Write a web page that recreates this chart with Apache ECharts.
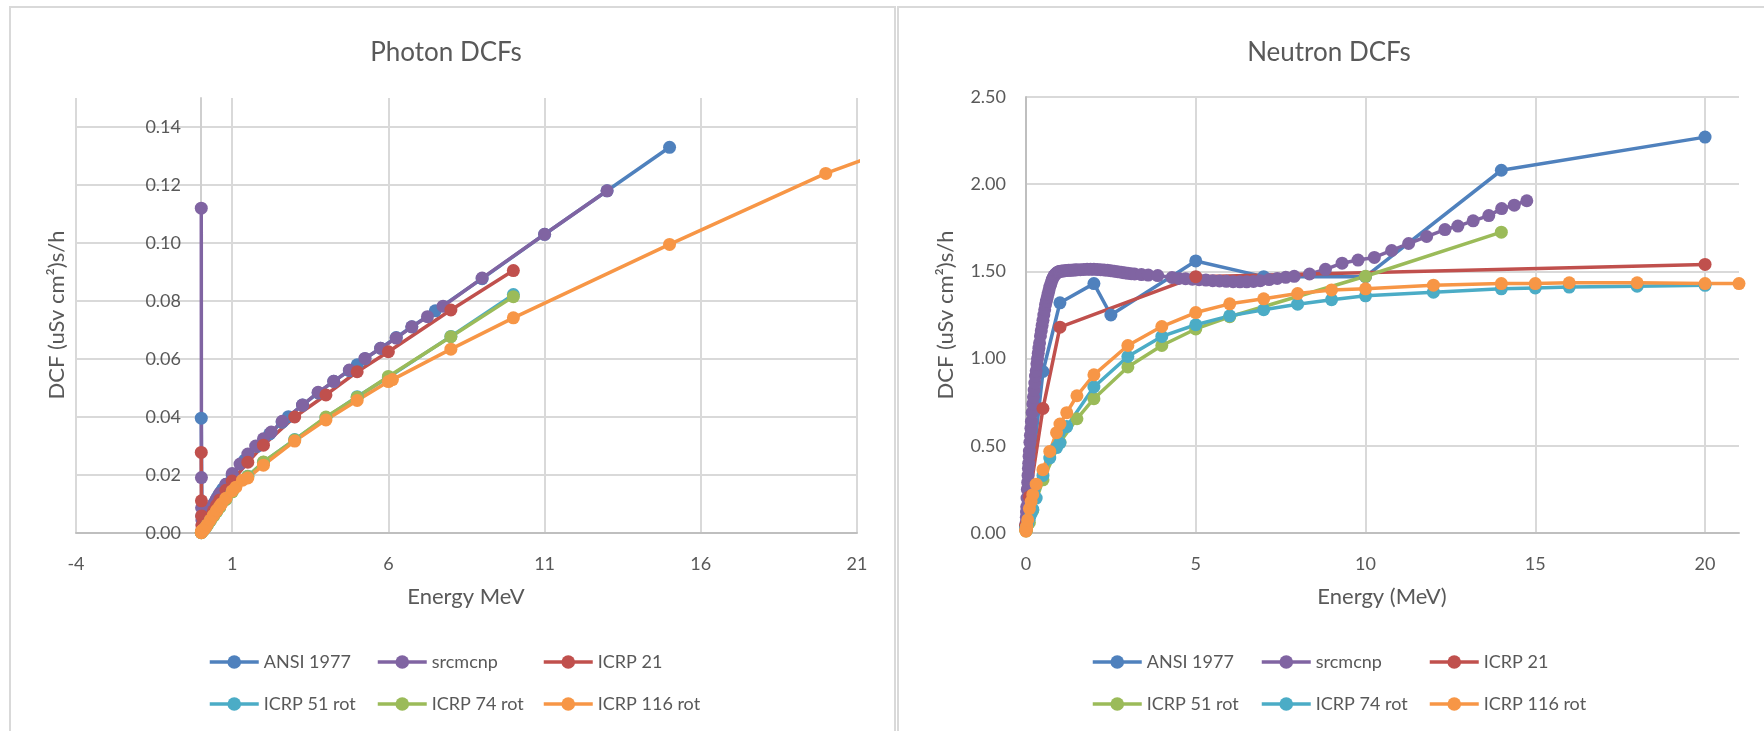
<!DOCTYPE html>
<html><head><meta charset="utf-8">
<script src="https://cdn.jsdelivr.net/npm/echarts@6/dist/echarts.min.js"></script>
<style>
html,body{margin:0;padding:0;background:#fff;width:1764px;height:731px;overflow:hidden;}
#p{position:absolute;left:0;top:0;width:896px;height:731px;}
#n{position:absolute;left:896px;top:0;width:868px;height:731px;}
.frame{position:absolute;border:2px solid #d9d9d9;box-sizing:border-box;}
</style></head><body>
<div class="frame" style="left:9px;top:6px;width:887px;height:760px"></div>
<div class="frame" style="left:897px;top:6px;width:900px;height:760px"></div>
<div id="p"></div>
<div id="n"></div>
<script>
// ---------------- data ----------------
const seriesNames = ['ANSI 1977','srcmcnp','ICRP 21','ICRP 51 rot','ICRP 74 rot','ICRP 116 rot'];
const photonTitle = 'Photon DCFs';
const neutronTitle = 'Neutron DCFs';
const photonXTitle = 'Energy MeV';
const neutronXTitle = 'Energy (MeV)';
const yTitle = 'DCF (uSv cm\u00B2)s/h';

// Photon (MeV, uSv/h per photon/cm2-s)
const phAnsiE = [0.01,0.03,0.05,0.07,0.1,0.15,0.2,0.25,0.3,0.35,0.4,0.45,0.5,0.55,0.6,0.65,0.7,0.8,1.0,1.4,1.8,2.2,2.6,2.8,3.25,3.75,4.25,4.75,5.0,5.25,5.75,6.25,6.75,7.5,9,11,13,15];
const phAnsiV = [0.0396,0.00582,0.0029,0.00258,0.00283,0.00379,0.00501,0.00631,0.00759,0.00878,0.00985,0.0108,0.0117,0.0127,0.0136,0.0144,0.0152,0.0168,0.0198,0.0251,0.0299,0.0342,0.0382,0.0401,0.0441,0.0483,0.0523,0.056,0.058,0.0601,0.0637,0.0674,0.0711,0.0766,0.0877,0.103,0.118,0.133];
const phSrcE = [0.01,0.015,0.02,0.03,0.04,0.05,0.06,0.08,0.1,0.15,0.2,0.3,0.4,0.5,0.6,0.8,1.0,1.25,1.5,1.75,2.0,2.25,2.6,3.25,3.75,4.25,4.75,5.25,5.75,6.25,6.75,7.25,7.75,9,11,13];
const phSrcV = [0.112,0.0191,0.0087,0.0045,0.003,0.0024,0.0023,0.0024,0.0028,0.0038,0.005,0.0076,0.0099,0.0117,0.0136,0.0168,0.0205,0.0238,0.0272,0.03,0.0325,0.0348,0.0385,0.0441,0.0485,0.0523,0.0562,0.0602,0.0637,0.0672,0.0711,0.0746,0.0782,0.0879,0.103,0.118];
const phI21E = [0.01,0.015,0.02,0.03,0.04,0.05,0.06,0.08,0.1,0.15,0.2,0.3,0.4,0.5,0.6,0.8,1,1.5,2,3,4,5,6,8,10];
const phI21V = [0.0278,0.0111,0.00588,0.00256,0.00156,0.0012,0.00111,0.0012,0.00147,0.00238,0.00345,0.00556,0.00763,0.00956,0.0114,0.0147,0.0179,0.0244,0.0303,0.04,0.0476,0.0556,0.0625,0.0769,0.0905];
const phI51E = [0.01,0.015,0.02,0.03,0.04,0.05,0.06,0.08,0.1,0.15,0.2,0.3,0.4,0.5,0.6,0.8,1,1.5,2,3,4,5,6,8,10];
const phI51V = [0.0001,0.0002,0.0004,0.0006,0.0007,0.0008,0.0009,0.001,0.0012,0.0019,0.0027,0.0043,0.0059,0.0074,0.0089,0.0117,0.0143,0.0196,0.0244,0.0322,0.0398,0.047,0.0537,0.0678,0.0822];
const phI74E = [0.01,0.015,0.02,0.03,0.04,0.05,0.06,0.08,0.1,0.15,0.2,0.3,0.4,0.5,0.6,0.8,1,1.5,2,3,4,5,6,8,10];
const phI74V = [0.0001,0.0002,0.0004,0.0006,0.0007,0.0008,0.0009,0.001,0.0012,0.0019,0.0027,0.0043,0.0058,0.0073,0.0088,0.0116,0.0142,0.0195,0.0245,0.0321,0.04,0.0468,0.054,0.0677,0.0815];
const phI116E = [0.01,0.015,0.02,0.03,0.04,0.05,0.06,0.07,0.08,0.1,0.15,0.2,0.3,0.4,0.5,0.511,0.6,0.662,0.8,1,1.117,1.33,1.5,2,3,4,5,6,6.129,8,10,15,20,30];
const phI116V = [0.0001,0.00025,0.00043,0.00068,0.00079,0.00086,0.0009,0.00097,0.00104,0.0013,0.002,0.00284,0.0045,0.00616,0.0077,0.00788,0.00922,0.0101,0.012,0.0145,0.0158,0.0182,0.019,0.0234,0.0317,0.039,0.0457,0.0522,0.0529,0.0634,0.0742,0.0995,0.124,0.1632];

// Neutron
const nAnsiE = [2.5e-8,1e-7,1e-6,1e-5,1e-4,1e-3,0.01,0.1,0.5,1,2,2.5,5,7,10,14,20];
const nAnsiV = [0.0367,0.0367,0.0446,0.0454,0.0418,0.0376,0.0356,0.217,0.926,1.32,1.43,1.25,1.56,1.47,1.47,2.08,2.27];
const nSrcE = [0,0.005,0.01,0.015,0.02,0.03,0.04,0.05,0.06,0.07,0.08,0.09,0.1,0.115,0.13,0.145,0.16,0.18,0.2,0.22,0.24,0.26,0.28,0.3,0.32,0.34,0.36,0.38,0.4,0.425,0.45,0.475,0.5,0.525,0.55,0.575,0.6,0.625,0.65,0.675,0.7,0.725,0.75,0.775,0.8,0.825,0.85,0.875,0.9,0.925,0.95,0.975,1.0,1.05,1.1,1.15,1.2,1.25,1.3,1.35,1.4,1.45,1.5,1.6,1.7,1.8,1.9,2.0,2.1,2.2,2.3,2.4,2.5,2.6,2.7,2.8,2.9,3.0,3.1,3.2,3.4,3.6,3.88,4.3,4.5,4.7,4.9,5.1,5.3,5.5,5.7,5.9,6.1,6.3,6.5,6.7,6.9,7.16,7.4,7.65,7.9,8.35,8.82,9.31,9.78,10.26,10.77,11.27,11.8,12.34,12.72,13.17,13.63,14.01,14.38,14.75];
const nSrcV = [0.02,0.06,0.09,0.12,0.15,0.2,0.25,0.29,0.33,0.37,0.4,0.44,0.47,0.52,0.56,0.6,0.64,0.69,0.74,0.78,0.82,0.86,0.9,0.93,0.97,1.0,1.03,1.06,1.09,1.13,1.16,1.19,1.22,1.25,1.28,1.31,1.33,1.35,1.37,1.39,1.41,1.425,1.44,1.455,1.465,1.475,1.48,1.485,1.49,1.494,1.497,1.499,1.5,1.502,1.503,1.504,1.505,1.506,1.507,1.507,1.508,1.508,1.509,1.51,1.511,1.512,1.512,1.512,1.511,1.51,1.508,1.506,1.504,1.501,1.498,1.495,1.492,1.489,1.487,1.485,1.482,1.479,1.476,1.465,1.46,1.458,1.455,1.452,1.45,1.447,1.445,1.443,1.441,1.44,1.44,1.442,1.447,1.453,1.46,1.466,1.472,1.485,1.512,1.547,1.565,1.58,1.62,1.66,1.7,1.74,1.76,1.79,1.82,1.86,1.88,1.905];
const nI21E = [2.5e-8,1e-7,1e-6,1e-5,1e-4,1e-3,0.01,0.1,0.5,1,5,20];
const nI21V = [0.0385,0.0417,0.0455,0.0435,0.0417,0.037,0.0357,0.208,0.714,1.18,1.47,1.54];
const nI51E = [2.5e-8,1e-6,1e-4,0.01,0.1,0.2,0.5,1,1.5,2,3,4,5,6,10,14];
const nI51V = [0.012,0.014,0.013,0.013,0.06,0.13,0.305,0.52,0.655,0.77,0.952,1.075,1.17,1.24,1.472,1.725];
const nI74E = [1e-9,2.5e-8,1e-6,1e-4,1e-3,0.01,0.02,0.05,0.1,0.15,0.2,0.3,0.5,0.7,0.9,1,1.2,2,3,4,5,6,7,8,9,10,12,14,15,16,18,20];
const nI74V = [0.018,0.027,0.028,0.026,0.024,0.028,0.035,0.055,0.085,0.11,0.135,0.2,0.33,0.43,0.49,0.516,0.61,0.837,1.012,1.127,1.194,1.245,1.28,1.312,1.338,1.36,1.381,1.4,1.405,1.41,1.415,1.42];
const nI116E = [1e-9,2.5e-8,1e-6,1e-4,1e-3,0.01,0.02,0.05,0.1,0.15,0.2,0.3,0.5,0.7,0.9,1,1.2,1.5,2,3,4,5,6,7,8,9,10,12,14,15,16,18,20,21,30];
const nI116V = [0.011,0.014,0.02,0.018,0.019,0.028,0.04,0.075,0.14,0.18,0.22,0.28,0.363,0.468,0.575,0.625,0.69,0.787,0.907,1.075,1.184,1.264,1.314,1.343,1.373,1.394,1.4,1.421,1.43,1.43,1.435,1.435,1.43,1.43,1.42];

const photonColors = ['#4F81BD','#8064A2','#C0504D','#4BACC6','#9BBB59','#F79646'];
const neutronColors = ['#4F81BD','#8064A2','#C0504D','#9BBB59','#4BACC6','#F79646'];

// ---------------- helpers ----------------
const FONT = 'Lato, "Open Sans", sans-serif';
const TXT = '#595959';
const LW = 3.5, MS = 13;
function pairs(e, v){ return e.map((x,i)=>[x, v[i]]); }
function mkSeries(name, color, e, v){
  return { name, type:'line', data:pairs(e,v), symbol:'circle', symbolSize:MS,
    showSymbol:true, clip:true, animation:false,
    lineStyle:{color, width:LW}, itemStyle:{color}, emphasis:{disabled:true} };
}
function mkLegends(cols, rows){
  const out = [];
  seriesNames.forEach((n,i)=>{
    out.push({ data:[n], left: cols[i%3], top: rows[Math.floor(i/3)], orient:'horizontal',
      itemWidth:49, itemHeight:17, padding:0, selectedMode:false,
      lineStyle:{width:LW},
      textStyle:{fontSize:18, color:TXT, fontFamily:FONT} });
  });
  return out;
}
function axisText(x, y, text, rot){
  return { type:'text', x, y, rotation: rot || 0, silent:true,
    style:{ text, fontSize:22, fontFamily:FONT, fill:TXT, align:'center', verticalAlign:'middle' } };
}

// ---------------- photon chart ----------------
const pXMin = -4, pXMax = 21;
const pGrid = { left:76, right:39, top:98, bottom:198 };
const pPlotW = 896 - pGrid.left - pGrid.right;
const pYAxisOffset = -(0 - pXMin) / (pXMax - pXMin) * pPlotW; // y axis crosses at x = 0
const pChart = echarts.init(document.getElementById('p'), null, {renderer:'canvas'});
const pSeries = [
  mkSeries(seriesNames[0], photonColors[0], phAnsiE, phAnsiV),
  mkSeries(seriesNames[1], photonColors[1], phSrcE, phSrcV),
  mkSeries(seriesNames[2], photonColors[2], phI21E, phI21V),
  mkSeries(seriesNames[3], photonColors[3], phI51E, phI51V),
  mkSeries(seriesNames[4], photonColors[4], phI74E, phI74V),
  mkSeries(seriesNames[5], photonColors[5], phI116E, phI116V)
];
pChart.setOption({
  animation:false,
  title:{ text:photonTitle, left:441, top:35, textAlign:'center',
    textStyle:{fontSize:26, fontWeight:'normal', color:TXT, fontFamily:FONT} },
  grid:Object.assign({ containLabel:false, outerBoundsMode:'none' }, pGrid),
  xAxis:{ type:'value', min:pXMin, max:pXMax, interval:5,
    axisLine:{onZero:true, lineStyle:{color:'#BFBFBF', width:2}},
    axisTick:{show:false},
    axisLabel:{fontSize:18, color:TXT, fontFamily:FONT, margin:22},
    splitLine:{show:true, lineStyle:{color:'#D9D9D9', width:2}} },
  yAxis:{ type:'value', min:0, max:0.15, interval:0.02, position:'left', offset:pYAxisOffset,
    axisLine:{show:true, onZero:false, lineStyle:{color:'#CFCFCF', width:2}},
    axisTick:{show:false},
    axisLabel:{fontSize:18, color:TXT, fontFamily:FONT, margin:20,
      formatter:v=> (Math.abs(v-0.15)<1e-9 ? '' : v.toFixed(2)), showMaxLabel:false},
    splitLine:{show:true, showMaxLine:false, lineStyle:{color:'#D9D9D9', width:2}} },
  legend: mkLegends([208,376,542], [653,695]),
  graphic:[ axisText(57, 315, yTitle, Math.PI/2), axisText(466, 597, photonXTitle, 0) ],
  series: pSeries
});

// ---------------- neutron chart ----------------
const nChart = echarts.init(document.getElementById('n'), null, {renderer:'canvas'});
const nSeries = [
  mkSeries(seriesNames[0], neutronColors[0], nAnsiE, nAnsiV),
  mkSeries(seriesNames[1], neutronColors[1], nSrcE, nSrcV),
  mkSeries(seriesNames[2], neutronColors[2], nI21E, nI21V),
  mkSeries(seriesNames[3], neutronColors[3], nI51E, nI51V),
  mkSeries(seriesNames[4], neutronColors[4], nI74E, nI74V),
  mkSeries(seriesNames[5], neutronColors[5], nI116E, nI116V)
];
nChart.setOption({
  animation:false,
  title:{ text:neutronTitle, left:428, top:35, textAlign:'center',
    textStyle:{fontSize:26, fontWeight:'normal', color:TXT, fontFamily:FONT} },
  grid:{ left:130, right:25, top:97, bottom:198, containLabel:false, outerBoundsMode:'none' },
  xAxis:{ type:'value', min:0, max:21, interval:5,
    axisLine:{onZero:true, lineStyle:{color:'#BFBFBF', width:2}},
    axisTick:{show:false},
    axisLabel:{fontSize:18, color:TXT, fontFamily:FONT, margin:22, showMaxLabel:false,
      formatter:v=> (v===21 ? '' : String(v))},
    splitLine:{show:true, showMinLine:false, showMaxLine:false, lineStyle:{color:'#D9D9D9', width:2}} },
  yAxis:{ type:'value', min:0, max:2.5, interval:0.5,
    axisLine:{show:true, onZero:false, lineStyle:{color:'#BFBFBF', width:2}},
    axisTick:{show:false},
    axisLabel:{fontSize:18, color:TXT, fontFamily:FONT, margin:20, formatter:v=>v.toFixed(2)},
    splitLine:{show:true, showMinLine:false, lineStyle:{color:'#D9D9D9', width:2}} },
  legend: mkLegends([195,364,532], [653,695]),
  graphic:[ axisText(50, 315, yTitle, Math.PI/2), axisText(486, 597, neutronXTitle, 0) ],
  series: nSeries
});
</script>
</body></html>
